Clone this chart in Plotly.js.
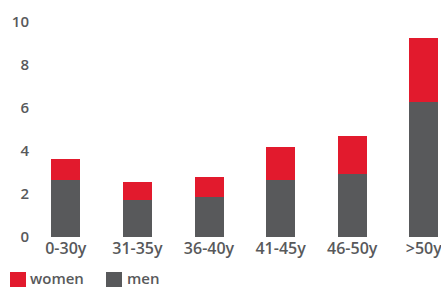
<!DOCTYPE html>
<html>
<head>
<meta charset="utf-8">
<script src="https://cdn.plot.ly/plotly-3.0.1.min.js"></script>
<style>html,body{margin:0;padding:0;background:#fff;}#chart{width:441px;height:287px;}</style>
</head>
<body>
<div id="chart"></div>
<script>
const categories = ["0-30y", "31-35y", "36-40y", "41-45y", "46-50y", ">50y"];
const menValues = [2.65, 1.72, 1.86, 2.67, 2.94, 6.29];
const womenValues = [0.98, 0.84, 0.93, 1.52, 1.76, 2.97];
const seriesNames = ["women", "men"];
const yTickValues = [0, 2, 4, 6, 8, 10];

const RED = "#e21a2d";
const GRAY = "#58595b";
const FONT = "Open Sans";

const traces = [
  {type: "bar", name: seriesNames[1], x: categories, y: menValues, marker: {color: GRAY}, showlegend: false, hoverinfo: "none"},
  {type: "bar", name: seriesNames[0], x: categories, y: womenValues, marker: {color: RED}, showlegend: false, hoverinfo: "none"}
];

const L = 30, R = 0, T = 22, B = 50, W = 441, H = 287;
const pw = W - L - R, ph = H - T - B;
const px = v => (v - L) / pw;
const py = v => (H - B - v) / ph;

const legendItems = [
  {name: seriesNames[0], color: RED, x0: 10, tx: 28},
  {name: seriesNames[1], color: GRAY, x0: 106, tx: 125}
];
const shapes = legendItems.map(it => ({
  type: "rect", xref: "paper", yref: "paper",
  x0: px(it.x0), x1: px(it.x0 + 16), y0: py(288), y1: py(272),
  fillcolor: it.color, line: {width: 0}
}));
const annotations = legendItems.map(it => ({
  xref: "paper", yref: "paper", x: px(it.tx), y: py(278),
  xanchor: "left", yanchor: "middle", showarrow: false, text: it.name,
  font: {family: FONT, size: 15, color: GRAY, weight: 600}
}));

const layout = {
  width: W, height: H,
  margin: {l: L, r: R, t: T, b: B, pad: 0},
  paper_bgcolor: "#fff", plot_bgcolor: "#fff",
  barmode: "stack", bargap: 0.595,
  showlegend: false,
  font: {family: FONT, size: 15, color: GRAY, weight: 600},
  xaxis: {type: "category", range: [-0.5, 5.24], showgrid: false, zeroline: false, showline: false,
          ticks: "", tickfont: {family: FONT, size: 16, color: GRAY, weight: 600}, fixedrange: true},
  yaxis: {range: [0, 10], tickvals: yTickValues, showgrid: false, zeroline: false, showline: false,
          ticks: "", tickfont: {family: FONT, size: 15, color: GRAY, weight: 600}, fixedrange: true},
  shapes: shapes,
  annotations: annotations
};

Plotly.newPlot("chart", traces, layout, {displayModeBar: false, staticPlot: true});
</script>
</body>
</html>
